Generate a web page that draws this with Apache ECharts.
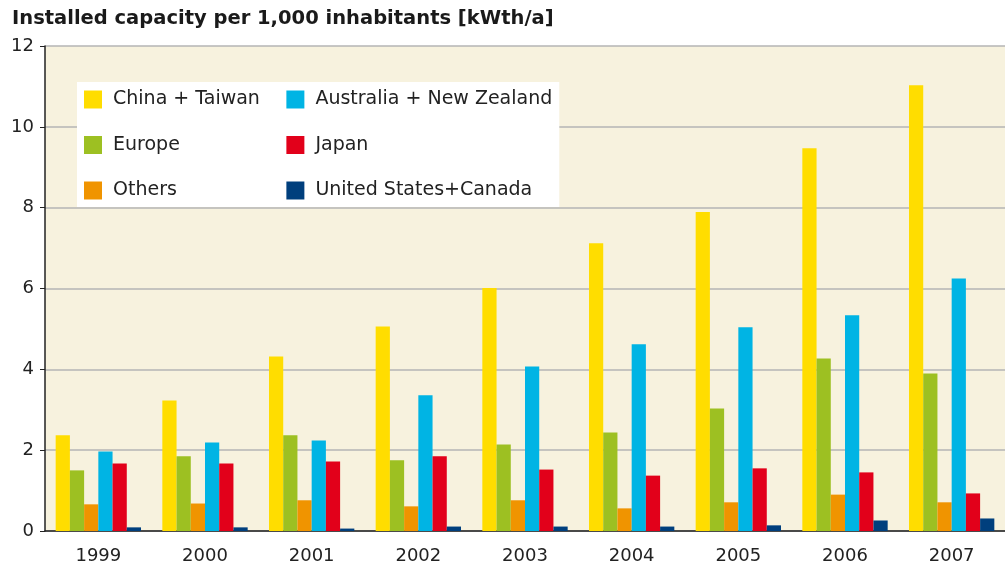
<!DOCTYPE html>
<html>
<head>
<meta charset="utf-8">
<script src="https://cdn.jsdelivr.net/npm/echarts@6/dist/echarts.min.js"></script>
<style>
  html, body { margin: 0; padding: 0; background: #fff; }
  #chart { width: 1005px; height: 566px; }
</style>
</head>
<body>
<div id="chart"></div>
<script>
// data
var years = ["1999", "2000", "2001", "2002", "2003", "2004", "2005", "2006", "2007"];
var chinaTaiwan = [2.37, 3.23, 4.32, 5.06, 6.01, 7.12, 7.89, 9.47, 11.03];
var europe = [1.50, 1.85, 2.37, 1.75, 2.14, 2.44, 3.03, 4.27, 3.90];
var others = [0.66, 0.68, 0.76, 0.61, 0.76, 0.56, 0.71, 0.90, 0.71];
var australiaNz = [1.97, 2.19, 2.24, 3.36, 4.07, 4.62, 5.04, 5.34, 6.25];
var japan = [1.67, 1.67, 1.72, 1.85, 1.52, 1.37, 1.55, 1.45, 0.93];
var usCanada = [0.09, 0.09, 0.06, 0.11, 0.11, 0.11, 0.14, 0.26, 0.31];

var font = "DejaVu Sans";

var chart = echarts.init(document.getElementById("chart"));

function bar(name, color, data) {
  return {
    name: name,
    type: "bar",
    barGap: 0,
    barCategoryGap: "20%",
    itemStyle: { color: color },
    data: data
  };
}

var option = {
  animation: false,
  title: {
    text: "Installed capacity per 1,000 inhabitants [kWth/a]",
    left: 7,
    top: 4,
    textStyle: {
      fontFamily: font,
      fontWeight: "bold",
      fontSize: 19.5,
      color: "#1a1a1a"
    }
  },
  legend: {
    orient: "vertical",
    left: 77,
    top: 82,
    height: 112,
    padding: [8, 7, 7, 7],
    itemGap: 26.5,
    itemWidth: 18,
    itemHeight: 18,
    backgroundColor: "#ffffff",
    icon: "rect",
    textStyle: {
      fontFamily: font,
      fontSize: 19,
      color: "#222",
      padding: [0, 0, 0, 6]
    },
    data: ["China + Taiwan", "Europe", "Others",
           "Australia + New Zealand", "Japan", "United States+Canada"]
  },
  grid: {
    left: 45,
    top: 46,
    right: -6,
    bottom: 35,
    show: true,
    backgroundColor: "#F7F2DE",
    borderWidth: 0
  },
  xAxis: {
    type: "category",
    data: years,
    axisLine: { lineStyle: { color: "#222", width: 1.5 } },
    axisTick: { length: 7, lineStyle: { color: "#222" } },
    axisLabel: {
      fontFamily: font,
      fontSize: 18,
      color: "#222",
      margin: 16
    }
  },
  yAxis: {
    type: "value",
    min: 0,
    max: 12,
    interval: 2,
    axisLine: { show: true, lineStyle: { color: "#222", width: 1.5 } },
    axisTick: { show: true, length: 5, lineStyle: { color: "#222" } },
    axisLabel: {
      fontFamily: font,
      fontSize: 18,
      color: "#222",
      margin: 11
    },
    splitLine: { lineStyle: { color: "#b4b4b4", width: 1.5 } }
  },
  series: [
    bar("China + Taiwan", "#FFDD00", chinaTaiwan),
    bar("Europe", "#9DC022", europe),
    bar("Others", "#F09400", others),
    bar("Australia + New Zealand", "#00B4E4", australiaNz),
    bar("Japan", "#E2001A", japan),
    bar("United States+Canada", "#003F7D", usCanada)
  ]
};

chart.setOption(option);
</script>
</body>
</html>
